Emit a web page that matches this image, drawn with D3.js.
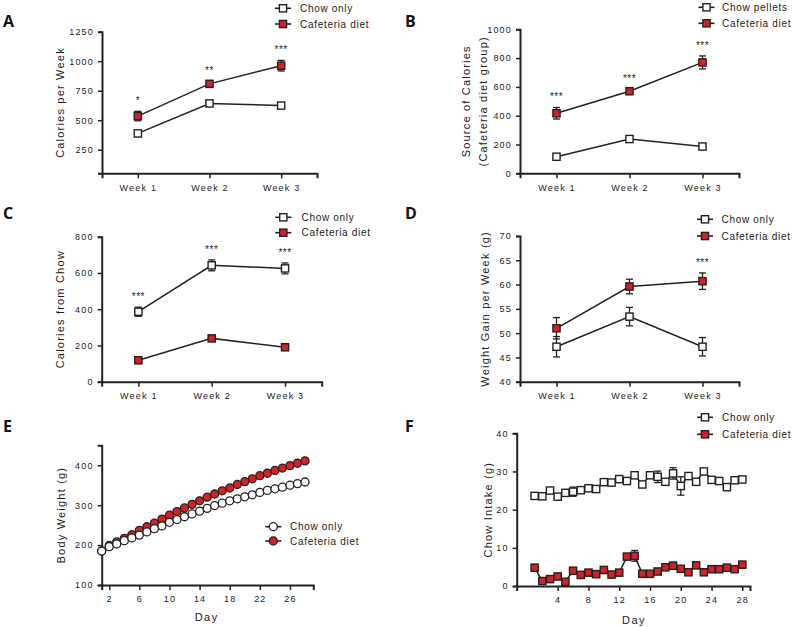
<!DOCTYPE html>
<html><head><meta charset="utf-8">
<script src="https://cdn.jsdelivr.net/npm/d3@7"></script>
<style>
body{margin:0;background:#fff}
text{font-family:"Liberation Sans",Arial,sans-serif;fill:#222}
.lbl{font-family:"Open Sans","Liberation Sans",sans-serif;font-weight:700;font-size:16px;fill:#111}
</style>
</head><body><svg id="c" width="800" height="627"></svg>
<script>
// ---------- DATA ----------
const weeks = ["Week 1", "Week 2", "Week 3"];

// A: Calories per week
const aChow = [388, 642, 624];
const aChowErr = [15, 20, 20];
const aCaf = [535, 808, 962];
const aCafErr = [40, 25, 45];
const aStars = ["*", "**", "***"];
const aTicks = [250, 500, 750, 1000, 1250];

// B: Source of calories (cafeteria diet group)
const bChow = [115, 238, 186];
const bChowErr = [10, 10, 10];
const bCaf = [417, 570, 770];
const bCafErr = [40, 15, 45];
const bStars = ["***", "***", "***"];
const bTicks = [0, 200, 400, 600, 800, 1000];

// C: Calories from chow
const cChow = [386, 642, 625];
const cChowErr = [25, 30, 30];
const cCaf = [118, 239, 190];
const cCafErr = [8, 8, 8];
const cStars = ["***", "***", "***"];
const cTicks = [0, 200, 400, 600, 800];

// D: Weight gain per week
const dChow = [47.2, 53.4, 47.2];
const dChowErr = [2.1, 1.9, 1.9];
const dCaf = [51.0, 59.6, 60.7];
const dCafErr = [2.2, 1.5, 1.7];
const dStars = ["", "", "***"];
const dTicks = [40, 45, 50, 55, 60, 65, 70];

// E: Body weight by day
const days = d3.range(1, 29);
const eChow = [185,196,203,211,218,225,233,241,248,257,264,271,278,285,292,299,305,311,316,321,326,332,337,341,345,350,354,358];
const eCaf  = [185,199,208,217,226,237,246,255,265,275,284,293,302,311,320,328,336,343,352,359,366,374,380,387,393,399,405,411];
const eXTicks = [2, 6, 10, 14, 18, 22, 26];
const eYTicks = [100, 200, 300, 400];

// F: Chow intake by day
const fChow = [23.6,23.5,25.0,23.4,24.4,24.7,25.1,25.6,25.4,27.2,27.1,28.0,27.5,29.0,26.6,29.0,28.6,27.3,29.5,26.2,28.8,27.3,30.0,27.8,27.5,25.9,27.7,27.9];
const fChowErr = [0.5,0.4,0.5,0.5,0.5,1.2,0.5,0.4,0.4,0.4,0.4,0.5,0.4,0.5,0.6,0.8,1.5,0.5,1.5,2.4,0.5,0.5,0.5,0.5,0.4,0.5,0.4,0.5];
const fCaf = [4.8,1.3,1.8,2.5,1.1,4.0,2.9,3.5,3.1,4.2,3.0,3.5,7.7,7.9,3.2,3.2,3.8,4.9,5.3,4.5,3.6,5.4,3.6,4.4,4.4,4.8,4.4,5.6];
const fCafErr = [0.8,0.4,0.4,0.5,0.4,0.5,0.4,0.4,0.4,0.5,0.4,0.4,0.8,1.4,0.4,0.4,0.4,0.5,0.9,0.5,0.4,0.5,0.4,0.4,0.4,0.4,0.4,0.6];
const fXTicks = [4, 8, 12, 16, 20, 24, 28];
const fYTicks = [0, 10, 20, 30, 40];

// ---------- DRAW ----------
const svg = d3.select("#c");
const RED = "#d71f26", INK = "#222";
const fmt = d3.format("d");

function axisStyle(g) {
  g.select(".domain").attr("stroke", INK).attr("stroke-width", 2);
  g.selectAll(".tick line").attr("stroke", INK).attr("stroke-width", 1.5);
  g.selectAll(".tick text").style("font-size", "9px").style("letter-spacing", "1.2px")
    .attr("fill", "#333").style("font-family", '"Liberation Sans",Arial,sans-serif');
}

function marker(g, x, y, type, fill) {
  if (type === "circle") {
    g.append("circle").attr("cx", x).attr("cy", y).attr("r", 4)
      .attr("fill", fill).attr("stroke", INK).attr("stroke-width", 1.3);
  } else {
    g.append("rect").attr("x", x - 3.6).attr("y", y - 3.6).attr("width", 7.2).attr("height", 7.2)
      .attr("fill", fill).attr("stroke", INK).attr("stroke-width", 1.4);
  }
}

function series(g, xs, ys, vals, errs, xv, type, fill) {
  const line = d3.line().x((d, i) => xs(xv[i])).y(d => ys(d));
  g.append("path").datum(vals).attr("d", line).attr("fill", "none")
    .attr("stroke", INK).attr("stroke-width", 1.5);
  if (errs) {
    vals.forEach((v, i) => {
      const x = xs(xv[i]);
      const y1 = ys(v + errs[i]), y2 = ys(v - errs[i]);
      g.append("line").attr("x1", x).attr("x2", x).attr("y1", y1).attr("y2", y2)
        .attr("stroke", INK).attr("stroke-width", 1.3);
      [y1, y2].forEach(yy => g.append("line").attr("x1", x - 3.5).attr("x2", x + 3.5)
        .attr("y1", yy).attr("y2", yy).attr("stroke", INK).attr("stroke-width", 1.3));
    });
  }
  vals.forEach((v, i) => marker(g, xs(xv[i]), ys(v), type, fill));
}

function legend(g, cx, ys, tx, labels, type) {
  labels.forEach((t, i) => {
    g.append("line").attr("x1", cx - 8).attr("x2", cx + 8).attr("y1", ys[i]).attr("y2", ys[i])
      .attr("stroke", INK).attr("stroke-width", 1.6);
    marker(g, cx, ys[i], type, i === 0 ? "#fff" : RED);
    g.append("text").attr("x", tx).attr("y", ys[i] + 3.6).text(t)
      .style("font-size", "10px").style("letter-spacing", "0.7px");
  });
}

function yLabel(g, x, yc, lines) {
  lines.forEach((t, i) => {
    g.append("text").attr("transform", `translate(${x[i]},${yc}) rotate(-90)`)
      .attr("text-anchor", "middle").text(t)
      .style("font-size", "11px").style("letter-spacing", "1.2px");
  });
}

function panelLabel(x, y, t) {
  svg.append("text").attr("class", "lbl").attr("x", x).attr("y", y).text(t);
}

function weekPanel(cfg) {
  const g = svg.append("g");
  const xs = d3.scalePoint().domain(weeks).range([cfg.x0, cfg.x1]).padding(0.5);
  const ys = d3.scaleLinear().domain(cfg.yDom).range([cfg.yBot, cfg.yTop]);
  const gx = g.append("g").attr("transform", `translate(0,${cfg.yBot})`)
    .call(d3.axisBottom(xs).tickSizeOuter(0).tickSize(5).tickPadding(6));
  axisStyle(gx);
  const gy = g.append("g").attr("transform", `translate(${cfg.x0},0)`)
    .call(d3.axisLeft(ys).tickValues(cfg.yTicks).tickFormat(fmt).tickSizeOuter(0).tickSize(4).tickPadding(4));
  axisStyle(gy);
  series(g, xs, ys, cfg.chow, cfg.chowErr, weeks, "square", "#fff");
  series(g, xs, ys, cfg.caf, cfg.cafErr, weeks, "square", RED);
  cfg.stars.forEach((s, i) => {
    if (!s) return;
    const top = Math.max(cfg.chow[i] + cfg.chowErr[i], cfg.caf[i] + cfg.cafErr[i]);
    g.append("text").attr("x", xs(weeks[i])).attr("y", ys(top) - 7)
      .attr("text-anchor", "middle").text(s).style("font-size", "10px").style("letter-spacing", "0.5px");
  });
  legend(g, cfg.legX, cfg.legY, cfg.legTX, cfg.legLabels, "square");
  yLabel(g, cfg.labX, (cfg.yTop + cfg.yBot) / 2, cfg.yLabel);
  panelLabel(cfg.plX, cfg.plY, cfg.pl);
}

weekPanel({x0: 102, x1: 317, yTop: 31.7, yBot: 173.3, yDom: [50, 1250], yTicks: aTicks,
  chow: aChow, chowErr: aChowErr, caf: aCaf, cafErr: aCafErr, stars: aStars,
  legX: 283, legY: [8.3, 24], legTX: 300, legLabels: ["Chow only", "Cafeteria diet"],
  labX: [64], yLabel: ["Calories per Week"], pl: "A", plX: 3, plY: 27});

weekPanel({x0: 520, x1: 739, yTop: 29.3, yBot: 173.3, yDom: [0, 1000], yTicks: bTicks,
  chow: bChow, chowErr: bChowErr, caf: bCaf, cafErr: bCafErr, stars: bStars,
  legX: 706.5, legY: [7.3, 23.3], legTX: 722, legLabels: ["Chow pellets", "Cafeteria diet"],
  labX: [470, 487], yLabel: ["Source of Calories", "(Cafeteria diet group)"], pl: "B", plX: 405, plY: 27});

weekPanel({x0: 101.7, x1: 321.7, yTop: 236.7, yBot: 381.7, yDom: [0, 800], yTicks: cTicks,
  chow: cChow, chowErr: cChowErr, caf: cCaf, cafErr: cCafErr, stars: cStars,
  legX: 283.3, legY: [217.3, 232.7], legTX: 301.5, legLabels: ["Chow only", "Cafeteria diet"],
  labX: [64], yLabel: ["Calories from Chow"], pl: "C", plX: 3, plY: 219});

weekPanel({x0: 520, x1: 739, yTop: 236, yBot: 381.7, yDom: [40, 70], yTicks: dTicks,
  chow: dChow, chowErr: dChowErr, caf: dCaf, cafErr: dCafErr, stars: dStars,
  legX: 705, legY: [219.3, 236], legTX: 721.5, legLabels: ["Chow only", "Cafeteria diet"],
  labX: [489], yLabel: ["Weight Gain per Week (g)"], pl: "D", plX: 405, plY: 219});

// Panel E
(function () {
  const g = svg.append("g");
  const x0 = 101.7, x1 = 313.3, yTop = 445.3, yBot = 585;
  const xs = d3.scaleLinear().domain([1, 29.1]).range([x0, x1]);
  const ys = d3.scaleLinear().domain([100, 450]).range([yBot, yTop]);
  const gx = g.append("g").attr("transform", `translate(0,${yBot})`)
    .call(d3.axisBottom(xs).tickValues(eXTicks).tickFormat(fmt).tickSizeOuter(0).tickSize(5).tickPadding(6));
  axisStyle(gx);
  const gy = g.append("g").attr("transform", `translate(${x0},0)`)
    .call(d3.axisLeft(ys).tickValues(eYTicks).tickFormat(fmt).tickSizeOuter(0).tickSize(4).tickPadding(4));
  axisStyle(gy);
  series(g, xs, ys, eCaf, null, days, "circle", RED);
  series(g, xs, ys, eChow, null, days, "circle", "#fff");
  legend(g, 273.3, [526.7, 541], 290, ["Chow only", "Cafeteria diet"], "circle");
  yLabel(g, [65], (yTop + yBot) / 2, ["Body Weight (g)"]);
  g.append("text").attr("x", 206.7).attr("y", 621).attr("text-anchor", "middle").text("Day")
    .style("font-size", "11px").style("letter-spacing", "1.5px");
  panelLabel(3, 432, "E");
})();

// Panel F
(function () {
  const g = svg.append("g");
  const x0 = 516.7, x1 = 750, yTop = 433.3, yBot = 586;
  const xs = d3.scaleLinear().domain([-1.33, 29]).range([x0, x1]);
  const ys = d3.scaleLinear().domain([0, 40]).range([yBot, yTop]);
  const gx = g.append("g").attr("transform", `translate(0,${yBot})`)
    .call(d3.axisBottom(xs).tickValues(fXTicks).tickFormat(fmt).tickSizeOuter(0).tickSize(5).tickPadding(6));
  axisStyle(gx);
  const gy = g.append("g").attr("transform", `translate(${x0},0)`)
    .call(d3.axisLeft(ys).tickValues(fYTicks).tickFormat(fmt).tickSizeOuter(0).tickSize(4).tickPadding(4));
  axisStyle(gy);
  series(g, xs, ys, fChow, fChowErr, days, "square", "#fff");
  series(g, xs, ys, fCaf, fCafErr, days, "square", RED);
  legend(g, 705, [417.3, 434.3], 722, [" Chow only", "Cafeteria diet"], "square");
  yLabel(g, [492], (yTop + yBot) / 2, ["Chow Intake (g)"]);
  g.append("text").attr("x", 634).attr("y", 624).attr("text-anchor", "middle").text("Day")
    .style("font-size", "11px").style("letter-spacing", "1.5px");
  panelLabel(405, 432, "F");
})();
</script></body></html>
